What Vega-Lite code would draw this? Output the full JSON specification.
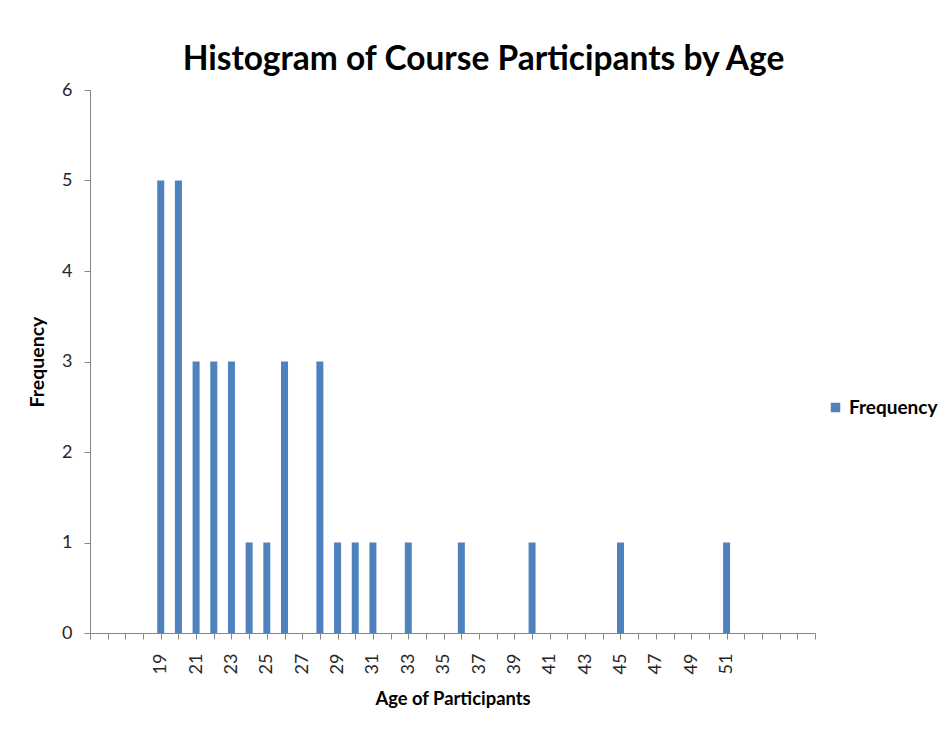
{
  "$schema": "https://vega.github.io/schema/vega-lite/v6.json",
  "autosize": "none",
  "width": 725,
  "height": 543,
  "padding": {"left": 90, "top": 90, "right": 129, "bottom": 98},
  "background": "white",
  "title": {
    "text": "Histogram of Course Participants by Age",
    "font": "Lato",
    "fontSize": 33.5,
    "fontWeight": "bold",
    "color": "#000000",
    "anchor": "middle",
    "dx": 31,
    "offset": 4
  },
  "data": {
    "values": [
      {"age": 19, "count": 5},
      {"age": 20, "count": 5},
      {"age": 21, "count": 3},
      {"age": 22, "count": 3},
      {"age": 23, "count": 3},
      {"age": 24, "count": 1},
      {"age": 25, "count": 1},
      {"age": 26, "count": 3},
      {"age": 28, "count": 3},
      {"age": 29, "count": 1},
      {"age": 30, "count": 1},
      {"age": 31, "count": 1},
      {"age": 33, "count": 1},
      {"age": 36, "count": 1},
      {"age": 40, "count": 1},
      {"age": 45, "count": 1},
      {"age": 51, "count": 1}
    ]
  },
  "mark": {"type": "bar", "size": 7},
  "encoding": {
    "x": {
      "field": "age",
      "type": "quantitative",
      "scale": {"domain": [15, 56], "nice": false, "zero": false, "padding": 0},
      "axis": {
        "title": "Age of Participants",
        "values": [15,16,17,18,19,20,21,22,23,24,25,26,27,28,29,30,31,32,33,34,35,36,37,38,39,40,41,42,43,44,45,46,47,48,49,50,51,52,53,54,55,56],
        "labelExpr": "(datum.value >= 19 && datum.value <= 51 && datum.value % 2 == 1) ? datum.value : ''",
        "labelAngle": -90,
        "labelAlign": "right",
        "labelBaseline": "middle",
        "labelFont": "Lato",
        "labelFontSize": 18,
        "labelColor": "#262626",
        "labelPadding": 14,
        "labelOverlap": false,
        "labelFlush": false,
        "grid": false,
        "domainColor": "#868686",
        "tickColor": "#868686",
        "tickSize": 6,
        "titleFont": "Lato",
        "titleFontSize": 18.4,
        "titleFontWeight": "bold",
        "titleColor": "#000000",
        "titlePadding": 16
      }
    },
    "y": {
      "field": "count",
      "type": "quantitative",
      "scale": {"domain": [0, 6], "nice": false, "padding": 0},
      "axis": {
        "title": "Frequency",
        "values": [0, 1, 2, 3, 4, 5, 6],
        "grid": false,
        "domainColor": "#868686",
        "tickColor": "#868686",
        "tickSize": 6,
        "labelFont": "Lato",
        "labelFontSize": 18,
        "labelColor": "#262626",
        "labelPadding": 12,
        "titleFont": "Lato",
        "titleFontSize": 19.5,
        "titleFontWeight": "bold",
        "titleColor": "#000000",
        "titlePadding": 14
      }
    },
    "color": {
      "datum": "Frequency",
      "type": "nominal",
      "scale": {"range": ["#4F81BD"]},
      "legend": {
        "title": null,
        "orient": "none",
        "legendX": 736,
        "legendY": 308,
        "symbolType": "square",
        "symbolSize": 90,
        "symbolStrokeWidth": 0,
        "labelOffset": 4,
        "labelFont": "Lato",
        "labelFontSize": 19,
        "labelFontWeight": "bold",
        "labelColor": "#000000"
      }
    }
  },
  "config": {
    "view": {"stroke": null}
  }
}
